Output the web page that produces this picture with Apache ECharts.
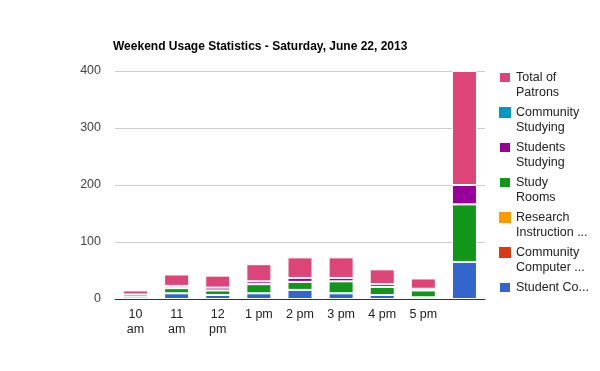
<!DOCTYPE html>
<html><head><meta charset="utf-8">
<script src="https://cdn.jsdelivr.net/npm/echarts@6/dist/echarts.min.js"></script>
<style>html,body{margin:0;padding:0;background:#fff}#c{width:600px;height:371px}</style>
</head><body><div id="c"></div>
<script>
var categories = ['10\nam', '11\nam', '12\npm', '1 pm', '2 pm', '3 pm', '4 pm', '5 pm', ''];
var studentComputers = [4, 10, 7, 10, 16, 10, 7, 3, 65];
var communityComputers = [0, 0, 0, 0, 0, 0, 0, 0, 0];
var researchInstruction = [0, 0, 0, 0, 0, 0, 0, 0, 0];
var studyRooms = [4, 9, 8, 16, 14, 21, 14, 12, 101];
var studentsStudying = [0, 4, 5, 5, 7, 6, 5, 3, 34];
var communityStudying = [0, 0, 0, 0, 0, 0, 0, 0, 0];
var totalPatrons = [7, 20, 21, 30, 36, 36, 26, 18, 200];
var yTicks = [0, 100, 200, 300, 400];
var seriesNames = ['Student Co...', 'Community\nComputer ...', 'Research\nInstruction ...', 'Study\nRooms', 'Students\nStudying', 'Community\nStudying', 'Total of\nPatrons'];
var seriesData = [studentComputers, communityComputers, researchInstruction, studyRooms, studentsStudying, communityStudying, totalPatrons];
var colors = ['#3366cc', '#dc3912', '#ff9900', '#109618', '#990099', '#0099c6', '#dd4477'];

var chart = echarts.init(document.getElementById('c'), null, {renderer: 'canvas'});
var series = seriesNames.map(function (n, i) {
  return {
    name: n, type: 'bar', stack: 'all', data: seriesData[i], barWidth: 25,
    itemStyle: {color: colors[i], borderColor: '#ffffff', borderWidth: seriesData[i].some(function(v){return v>0;}) ? 1 : 0},
    emphasis: {disabled: true}
  };
});
chart.setOption({
  animation: false,
  color: colors,
  title: {
    text: 'Weekend Usage Statistics - Saturday, June 22, 2013',
    left: 108, top: 36,
    textStyle: {fontFamily: 'Liberation Sans, Arial', fontSize: 12, fontWeight: 'bold', color: '#000'}
  },
  legend: {
    orient: 'vertical', left: 498, top: 71, padding: 0,
    data: seriesNames.slice().reverse(),
    icon: 'rect', itemWidth: 12, itemHeight: 11, itemGap: 7,
    formatter: function (name) {
      var parts = name.split('\n');
      if (parts.length === 1) return '{a|' + parts[0] + '}';
      return '{a|' + parts[0] + '}\n{b|' + parts[1] + '}';
    },
    textStyle: {
      fontFamily: 'Liberation Sans, Arial', fontSize: 12.5, color: '#222',
      rich: {
        a: {fontFamily: 'Liberation Sans, Arial', fontSize: 12.5, color: '#222', lineHeight: 30},
        b: {fontFamily: 'Liberation Sans, Arial', fontSize: 12.5, color: '#222', lineHeight: 0}
      }
    }
  },
  grid: {left: 115, right: 115, top: 71, bottom: 72, containLabel: false},
  xAxis: {
    type: 'category', data: categories,
    axisLine: {lineStyle: {color: '#333', width: 1}},
    axisTick: {show: false},
    axisLabel: {interval: 0, fontFamily: 'Liberation Sans, Arial', fontSize: 12.5, color: '#222', lineHeight: 15, margin: 8}
  },
  yAxis: {
    type: 'value', min: yTicks[0], max: yTicks[yTicks.length - 1], interval: 100,
    axisLine: {show: false}, axisTick: {show: false},
    splitLine: {lineStyle: {color: '#cccccc'}},
    axisLabel: {fontFamily: 'Liberation Sans, Arial', fontSize: 12.5, color: '#444', margin: 14}
  },
  series: series
});
</script></body></html>
